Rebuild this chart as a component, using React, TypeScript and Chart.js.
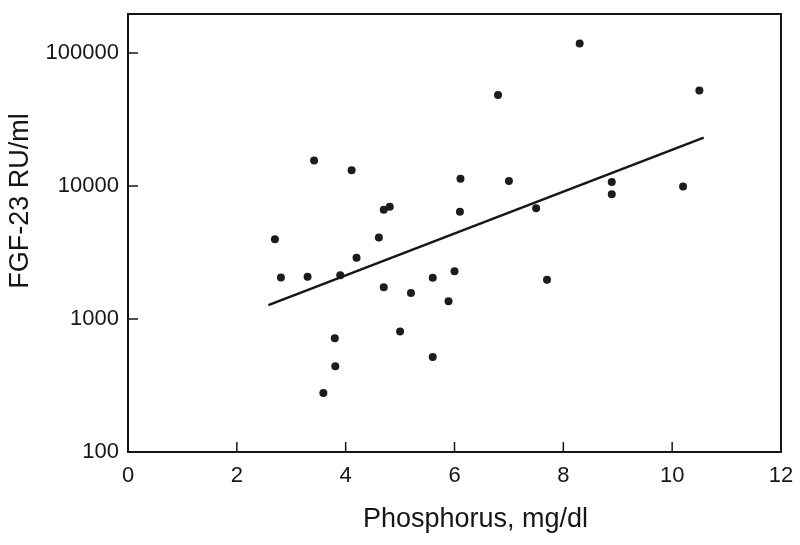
import React, { useEffect, useRef } from "react";
import { Chart, registerables } from "chart.js";

Chart.register(...registerables);

// Scatter data: serum phosphorus (mg/dl) vs FGF-23 (RU/ml)
const phosphorus = [
  2.70, 2.81, 3.30, 3.42, 3.59, 3.80, 3.81, 3.90, 4.11, 4.20, 4.61,
  4.70, 4.70, 4.81, 5.00, 5.20, 5.60, 5.60, 5.89, 6.00, 6.10, 6.11,
  6.80, 7.00, 7.50, 7.70, 8.30, 8.89, 8.89, 10.20, 10.50,
];
const fgf23 = [
  3970, 2050, 2080, 15500, 278, 717, 442, 2130, 13100, 2880, 4100,
  6630, 1730, 6970, 805, 1570, 2040, 518, 1360, 2280, 6390, 11300,
  48300, 10900, 6790, 1970, 117500, 10700, 8660, 9910, 52100,
];

// Regression line end points
const fitX = [2.58, 10.58];
const fitY = [1270, 23100];

const xTickValues = [0, 2, 4, 6, 8, 10, 12];
const yTickValues = [100, 1000, 10000, 100000];

const xTitle = "Phosphorus, mg/dl";
const yTitle = "FGF-23 RU/ml";

const FONT = '"Liberation Sans", Arial, Helvetica, sans-serif';
const INK = "#161616";

const framePlugin = {
  id: "frameAndTitles",
  afterDraw(chart: any) {
    const { ctx, chartArea: a, scales } = chart;
    ctx.save();
    ctx.strokeStyle = INK;
    ctx.lineWidth = 2;
    ctx.strokeRect(a.left, a.top, a.right - a.left, a.bottom - a.top);

    ctx.lineWidth = 1.5;
    const tl = 10;
    ctx.beginPath();
    scales.x.ticks.forEach((t: any) => {
      const px = scales.x.getPixelForValue(t.value);
      if (px <= a.left + 1 || px >= a.right - 1) return;
      ctx.moveTo(px, a.bottom);
      ctx.lineTo(px, a.bottom - tl);
    });
    scales.y.ticks.forEach((t: any) => {
      const py = scales.y.getPixelForValue(t.value);
      if (py >= a.bottom - 1 || py <= a.top + 1) return;
      ctx.moveTo(a.left, py);
      ctx.lineTo(a.left + tl, py);
    });
    ctx.stroke();

    ctx.fillStyle = INK;
    ctx.font = `27px ${FONT}`;
    ctx.textAlign = "center";
    ctx.textBaseline = "middle";
    ctx.fillText(xTitle, (a.left + a.right) / 2 + 21, a.bottom + 68);
    ctx.save();
    ctx.translate(21, a.top + 187);
    ctx.rotate(-Math.PI / 2);
    ctx.fillText(yTitle, 0, 0);
    ctx.restore();
    ctx.restore();
  },
};

export default function App() {
  const canvasRef = useRef<HTMLCanvasElement | null>(null);

  useEffect(() => {
    const canvas = canvasRef.current;
    if (!canvas) return;
    const chart = new Chart(canvas, {
      type: "scatter",
      data: {
        datasets: [
          {
            type: "line",
            data: fitX.map((x, i) => ({ x, y: fitY[i] })),
            borderColor: INK,
            borderWidth: 2.5,
            pointRadius: 0,
            fill: false,
            showLine: true,
          } as any,
          {
            data: phosphorus.map((x, i) => ({ x, y: fgf23[i] })),
            backgroundColor: "#1c1c1c",
            borderColor: "#1c1c1c",
            borderWidth: 0,
            pointRadius: 4,
          },
        ],
      },
      options: {
        responsive: false,
        animation: false,
        devicePixelRatio: 1,
        layout: { padding: { top: 14, right: 19, left: 0, bottom: 0 } },
        plugins: {
          legend: { display: false },
          tooltip: { enabled: false },
          title: { display: false },
        },
        scales: {
          x: {
            type: "linear",
            min: 0,
            max: 12,
            grid: { display: false, drawTicks: false },
            border: { display: false },
            afterBuildTicks: (s: any) => {
              s.ticks = xTickValues.map((v) => ({ value: v }));
            },
            afterFit: (s: any) => {
              s.height = 93;
              s.paddingLeft = 0;
              s.paddingRight = 0;
            },
            ticks: {
              padding: 11,
              color: INK,
              font: { family: FONT, size: 22 },
              maxRotation: 0,
              autoSkip: false,
              callback: (v: any) => String(v),
            },
          },
          y: {
            type: "logarithmic",
            min: 100,
            max: 196000,
            grid: { display: false, drawTicks: false },
            border: { display: false },
            afterBuildTicks: (s: any) => {
              s.ticks = yTickValues.map((v) => ({ value: v }));
            },
            afterFit: (s: any) => {
              s.width = 128;
              s.paddingTop = 0;
              s.paddingBottom = 0;
            },
            ticks: {
              padding: 9,
              color: INK,
              font: { family: FONT, size: 22 },
              autoSkip: false,
              callback: (v: any) => String(v),
            },
          },
        },
      },
      plugins: [framePlugin],
    });
    return () => chart.destroy();
  }, []);

  return (
    <div
      style={{
        position: "absolute",
        left: 0,
        top: 0,
        width: 800,
        height: 545,
        background: "#ffffff",
      }}
    >
      <canvas ref={canvasRef} width={800} height={545} />
    </div>
  );
}
